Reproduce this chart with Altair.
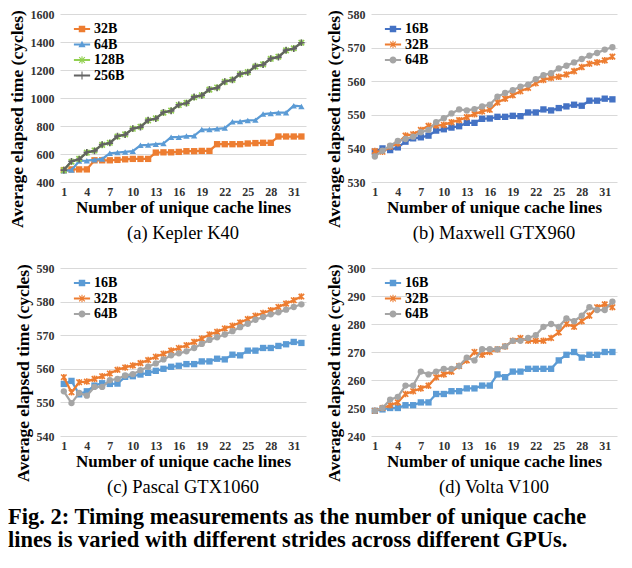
import altair as alt
import pandas as pd

FONT = "Liberation Serif"

# ---------------- data ----------------
lines_x = list(range(1, 33))
x_ticks = [1, 4, 7, 10, 13, 16, 19, 22, 25, 28, 31]

# (a) Kepler K40
k40_names = ["32B", "64B", "128B", "256B"]
k40_32 = [485, 490, 490, 490, 555, 555, 555, 558, 562, 565, 565, 565, 610, 612, 612, 615,
          620, 620, 622, 622, 670, 670, 670, 670, 675, 678, 680, 680, 725, 725, 725, 725]
k40_64 = [480, 485, 550, 552, 558, 565, 605, 610, 615, 620, 662, 665, 670, 675, 720, 720,
          728, 730, 775, 775, 780, 785, 830, 832, 840, 842, 885, 890, 895, 895, 945, 940]
k40_128 = [485, 545, 565, 610, 625, 665, 680, 725, 740, 780, 795, 840, 855, 895, 910, 950,
           965, 1005, 1020, 1060, 1075, 1115, 1130, 1170, 1185, 1225, 1240, 1280, 1295, 1340, 1355, 1395]
k40_256 = [485, 548, 562, 612, 622, 668, 678, 728, 738, 782, 792, 842, 852, 898, 908, 952,
           962, 1008, 1018, 1062, 1072, 1118, 1128, 1172, 1182, 1228, 1238, 1282, 1292, 1342, 1352, 1395]

# (b) Maxwell GTX960
mx_names = ["16B", "32B", "64B"]
mx_16 = [539.0, 540.0, 539.5, 540.3, 542.0, 543.0, 543.3, 543.8, 545.3, 545.7, 546.2, 546.6,
         547.6, 547.6, 548.8, 548.9, 549.4, 549.4, 549.7, 549.6, 550.7, 550.7, 551.6, 551.3,
         552.0, 552.5, 553.0, 552.7, 554.2, 554.2, 554.8, 554.6]
mx_32 = [539.2, 539.0, 540.5, 541.5, 543.8, 544.2, 545.5, 546.7, 546.8, 547.0, 547.8, 548.4,
         549.3, 550.2, 551.0, 551.5, 553.7, 554.8, 555.8, 557.0, 558.0, 559.4, 560.4, 561.0,
         561.3, 562.0, 563.0, 564.2, 565.2, 565.6, 566.2, 567.3]
mx_64 = [537.6, 539.3, 540.8, 542.2, 542.8, 543.5, 544.8, 545.5, 547.8, 549.0, 550.4, 551.6,
         551.3, 551.7, 552.5, 553.0, 555.4, 556.5, 557.3, 558.4, 559.0, 560.6, 561.8, 562.4,
         563.8, 564.6, 565.6, 566.6, 567.6, 568.4, 569.4, 570.1]

# (c) Pascal GTX1060
pa_names = ["16B", "32B", "64B"]
pa_16 = [555.5, 556.4, 552.4, 553.3, 555.0, 555.7, 555.5, 555.6, 557.6, 557.8, 558.3, 558.8,
         559.4, 560.0, 560.6, 560.9, 561.4, 561.4, 562.2, 562.2, 563.0, 562.8, 564.2, 564.0,
         565.4, 565.4, 566.2, 566.2, 566.8, 567.3, 568.0, 567.7]
pa_32 = [557.5, 553.0, 556.0, 556.2, 557.0, 557.8, 558.6, 559.7, 560.4, 561.0, 561.7, 562.6,
         563.6, 564.5, 565.4, 566.2, 567.0, 568.0, 569.0, 570.2, 571.0, 572.0, 572.8, 573.8,
         574.8, 575.8, 576.6, 577.4, 578.4, 579.4, 580.4, 581.5]
pa_64 = [553.3, 549.8, 552.8, 552.0, 554.6, 554.6, 556.6, 557.0, 558.0, 558.4, 559.6, 560.6,
         561.6, 562.8, 564.0, 564.6, 565.2, 566.2, 567.4, 568.6, 569.4, 570.2, 571.2, 572.4,
         573.4, 574.6, 575.4, 576.2, 576.8, 577.6, 578.4, 579.2]

# (d) Volta V100
vo_names = ["16B", "32B", "64B"]
vo_16 = [249, 249.5, 250, 250, 251, 251, 252, 252, 255, 255, 256, 256, 257, 257, 258, 258,
         262, 261, 263, 263, 264, 264, 264, 264, 267, 269, 270, 268, 269, 269, 270, 270]
vo_32 = [249, 250, 251, 252, 255, 256, 257, 258, 261, 262, 263, 265, 267, 270, 269, 270,
         271, 272, 274, 275, 274, 274, 274, 275, 277, 280, 279, 281, 283, 286, 287, 286]
vo_64 = [249, 250, 253, 254, 258, 258, 263, 262, 263, 264, 264, 265, 268, 267, 271, 271,
         271, 272, 274, 274, 275, 276, 279, 280, 279, 282, 281, 283, 286, 285, 285, 288]

subcaptions = ["(a) Kepler K40", "(b) Maxwell GTX960", "(c) Pascal GTX1060", "(d) Volta V100"]
caption = ["Fig. 2: Timing measurements as the number of unique cache",
           "lines is varied with different strides across different GPUs."]
x_title = "Number of unique cache lines"
y_title = "Average elapsed time (cycles)"

# ---------------- styles ----------------
ORANGE = "#ED7D31"
LBLUE = "#5B9BD5"
DBLUE = "#4472C4"
GRAY = "#A5A5A5"
DGRAY = "#636363"
GREEN = "#92D050"

W = 246
H = 168

# plot marker shapes: (shape, filled)
M_SQUARE = ("square", True)
M_TRI = ("triangle-up", True)
M_CIRCLE = ("circle", True)
M_AST = ("M-1,-1L1,1M-1,1L1,-1M0,-1.2L0,1.2", False)
M_PLUS = ("M-1.2,0L1.2,0M0,-1.2L0,1.2", False)

# legend symbols: line + marker, filled paths
L_LINE = "M-1.8,-0.22H1.8V0.22H-1.8Z"
L_SQUARE = L_LINE + "M-0.72,-0.72H0.72V0.72H-0.72Z"
L_TRI = L_LINE + "M0,-0.85L0.8,0.6H-0.8Z"
L_CIRCLE = L_LINE + "M-0.78,0A0.78,0.78,0,1,1,0.78,0A0.78,0.78,0,1,1,-0.78,0Z"
L_AST = (L_LINE + "M-0.12,-0.85H0.12V0.85H-0.12Z"
         "M-0.72,-0.55L-0.55,-0.72L0.72,0.55L0.55,0.72Z"
         "M0.55,-0.72L0.72,-0.55L-0.55,0.72L-0.72,0.55Z")
L_PLUS = L_LINE + "M-0.12,-0.9H0.12V0.9H-0.12Z"


def panel(names, series, colors, markers, legend_paths, ydom, ystep, sub):
    rows = []
    for name, vals in zip(names, series):
        for x, v in zip(lines_x, vals):
            rows.append({"n": x, "t": v, "s": name})
    df = pd.DataFrame(rows)
    xenc = alt.X("n:Q",
                 scale=alt.Scale(domain=[0.5, 32.6], nice=False, zero=False),
                 axis=alt.Axis(values=x_ticks, title=x_title, grid=False, labelFlush=False))
    yenc = alt.Y("t:Q",
                 scale=alt.Scale(domain=ydom, nice=False, zero=False),
                 axis=alt.Axis(values=list(range(ydom[0], ydom[1] + 1, ystep)), title=y_title,
                               format="d", titleY=H / 2 + 20.5))
    base = alt.Chart(df)
    layers = []
    for name, col, (shp, filled) in zip(names, colors, markers):
        sel = base.transform_filter(alt.datum.s == name)
        layers.append(sel.mark_line(color=col, strokeWidth=2.25).encode(x=xenc, y=yenc))
        if filled:
            layers.append(sel.mark_point(shape=shp, filled=True, color=col, opacity=1, size=40)
                          .encode(x=xenc, y=yenc))
        else:
            layers.append(sel.mark_point(shape=shp, filled=False, color=col, opacity=1, size=30,
                                         strokeWidth=1.6).encode(x=xenc, y=yenc))
    leg = alt.Legend(title=None, orient="none", legendX=15, legendY=8)
    legend_layer = base.mark_point(filled=True, opacity=0, size=1).encode(
        x=xenc, y=yenc,
        color=alt.Color("s:N", scale=alt.Scale(domain=names, range=colors), legend=leg),
        shape=alt.Shape("s:N", scale=alt.Scale(domain=names, range=legend_paths), legend=leg),
    )
    layers.append(legend_layer)
    return alt.layer(*layers).properties(
        width=W, height=H,
        title=alt.TitleParams(sub, orient="bottom", font=FONT, fontSize=18.5,
                              fontWeight="normal", color="black", offset=-3),
    )


pa = panel(k40_names, [k40_32, k40_64, k40_128, k40_256], [ORANGE, LBLUE, GREEN, DGRAY],
           [M_SQUARE, M_TRI, M_AST, M_PLUS], [L_SQUARE, L_TRI, L_AST, L_PLUS],
           [400, 1600], 200, subcaptions[0])
pb = panel(mx_names, [mx_16, mx_32, mx_64], [DBLUE, ORANGE, GRAY],
           [M_SQUARE, M_AST, M_CIRCLE], [L_SQUARE, L_AST, L_CIRCLE],
           [530, 580], 10, subcaptions[1])
pc = panel(pa_names, [pa_16, pa_32, pa_64], [LBLUE, ORANGE, GRAY],
           [M_SQUARE, M_AST, M_CIRCLE], [L_SQUARE, L_AST, L_CIRCLE],
           [540, 590], 10, subcaptions[2])
pd_ = panel(vo_names, [vo_16, vo_32, vo_64], [LBLUE, ORANGE, GRAY],
            [M_SQUARE, M_AST, M_CIRCLE], [L_SQUARE, L_AST, L_CIRCLE],
            [240, 300], 10, subcaptions[3])

chart = alt.concat(
    pa, pb, pc, pd_, columns=2, bounds="flush",
    spacing=alt.RowColnumber(row=86, column=65),
    title=alt.TitleParams(caption, orient="bottom", anchor="start", font=FONT, fontSize=22.5,
                          fontWeight="bold", color="black", lineHeight=23, offset=9),
).resolve_scale(
    color="independent", shape="independent"
).properties(padding=0, background="white").configure_view(stroke=None).configure_axis(
    labelFont=FONT, labelFontSize=12, labelFontWeight="bold", labelColor="#333333",
    titleFont=FONT, titleFontSize=17, titleFontWeight="bold", titleColor="black",
    gridColor="#D9D9D9", gridWidth=1, domain=False, ticks=False, labelPadding=4, titlePadding=2,
).configure_axisY(titleFontSize=17.5, labelPadding=6, titlePadding=4).configure_legend(
    labelFont=FONT, labelFontSize=14, labelFontWeight="bold",
    labelColor="black", symbolSize=81, symbolOpacity=1, symbolStrokeWidth=0, labelOffset=5,
    rowPadding=1.5, padding=0,
)

chart.save("out.html", embed_options={"renderer": "svg", "actions": False})
